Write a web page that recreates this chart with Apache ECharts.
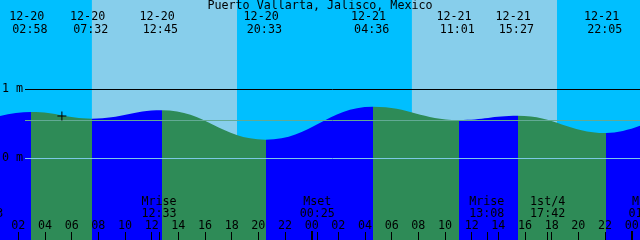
<!DOCTYPE html>
<html>
<head>
<meta charset="utf-8">
<script src="https://cdn.jsdelivr.net/npm/echarts@6/dist/echarts.min.js"></script>
<style>
  html, body { margin: 0; padding: 0; }
  #chart { width: 640px; height: 240px; }
</style>
</head>
<body>
<div id="chart"></div>
<script>
// highs and lows (mm-dd hh:mm) and level in metres
// first and last one are just outside the window
const tideTimes = ['12-19 19:00', '12-20 02:58', '12-20 07:32', '12-20 12:45', '12-20 20:33', '12-21 04:36', '12-21 11:01', '12-21 15:27', '12-21 22:05', '12-22 04:00']
const tideLevels = [0.20, 0.668, 0.572, 0.693, 0.269, 0.745, 0.553, 0.615, 0.365, 0.80]

// sunrise / sunset
const daylight = [['12-20 07:31', '12-20 18:24'], ['12-21 07:31', '12-21 18:24']]

// moon events along the bottom
const eventNames = ['Mset', 'Mrise', 'Mset', 'Mrise', '1st/4', 'Mset']
const eventTimes = ['12-19 23:33', '12-20 12:33', '12-21 00:25', '12-21 13:08', '12-21 17:42', '12-22 01:05']

// hours since 12-20 00:00
const hourTicks = [2, 4, 6, 8, 10, 12, 14, 16, 18, 20, 22, 24, 26, 28, 30, 32, 34, 36, 38, 40, 42, 44, 46, 48]
const dayTicks = [24, 48]
const levelTicks = [0, 1]
const meanLevel = 0.548
const nowTime = '12-20 05:16'
const nowLevel = 0.61

const viewStart = 0.625
const viewEnd = 48.625
const yMin = -1.179
const yMax = 2.284

const NIGHT = '#00BFFF'
const DAY = '#87CEEB'
const FLOOD = '#0000FF'
const EBB = '#2E8B57'
const FONT = 'DejaVu Sans Mono'
const FSIZE = 11.7

function toHours(s) {
  const [md, hm] = s.split(' ')
  const day = +md.split('-')[1] - 20
  const [h, m] = hm.split(':')
  return day * 24 + (+h) + (+m) / 60
}
const pad = n => (n < 10 ? '0' : '') + n

const tideHours = tideTimes.map(toHours)
const eventHours = eventTimes.map(toHours)
const labelHours = tideHours.filter(h => h > viewStart && h < viewEnd)

// rising water blue, falling water green
const pieces = []
for (let i = 0; i < tideHours.length - 1; i++) {
  pieces.push({
    gte: tideHours[i],
    lt: tideHours[i + 1],
    color: tideLevels[i + 1] > tideLevels[i] ? FLOOD : EBB
  })
}

// the event strip runs past both edges so clipped labels still show
const hourPx = 640 / (viewEnd - viewStart)
const overhang = 40

const noLine = { show: false, onZero: false }

const chart = echarts.init(document.getElementById('chart'))
chart.setOption({
  backgroundColor: NIGHT,
  animation: false,
  textStyle: { fontFamily: FONT, fontSize: FSIZE, color: '#000' },
  title: {
    text: 'Puerto Vallarta, Jalisco, Mexico',
    left: 'center',
    top: 0,
    padding: 0,
    z: 10,
    textStyle: { fontFamily: FONT, fontSize: FSIZE, fontWeight: 'normal', color: '#000' }
  },
  grid: [
    { left: 0, right: 0, top: 0, bottom: 0, outerBoundsMode: 'none', containLabel: false },
    { left: 25, right: 0, top: 0, bottom: 0, outerBoundsMode: 'none', containLabel: false },
    { left: -overhang, right: -overhang, top: 0, bottom: 0, outerBoundsMode: 'none', containLabel: false },
    { left: 0, right: 0, top: 0, bottom: 0, outerBoundsMode: 'none', containLabel: false }
  ],
  visualMap: {
    type: 'piecewise',
    show: false,
    seriesIndex: 0,
    dimension: 0,
    pieces: pieces
  },
  xAxis: [
    {
      gridIndex: 0, type: 'value', position: 'bottom', min: viewStart, max: viewEnd, z: 10,
      axisLine: noLine, splitLine: { show: false },
      axisTick: { show: true, inside: true, length: 8, customValues: hourTicks, lineStyle: { color: '#000', width: 1 } },
      axisLabel: {
        inside: true, margin: 8, customValues: hourTicks, showMaxLabel: true, showMinLabel: true,
        color: '#000', fontFamily: FONT, fontSize: FSIZE,
        formatter: v => pad(Math.round(v) % 24)
      }
    },
    {
      gridIndex: 0, type: 'value', position: 'top', min: viewStart, max: viewEnd, z: 10,
      axisLine: noLine, splitLine: { show: false }, axisTick: { show: false },
      axisLabel: {
        inside: true, margin: 10.7, customValues: labelHours,
        color: '#000', fontFamily: FONT, fontSize: FSIZE,
        formatter: v => {
          const i = tideHours.indexOf(v)
          const [d, t] = tideTimes[i].split(' ')
          return '{d|' + d + '}\n{t|' + t + '}'
        },
        rich: {
          d: { fontFamily: FONT, fontSize: FSIZE, lineHeight: 12.6, padding: [0, 9, 0, 0] },
          t: { fontFamily: FONT, fontSize: FSIZE, lineHeight: 12.6, padding: [0, 2.6, 0, 0] }
        }
      }
    },
    { gridIndex: 1, type: 'value', min: 0, max: 1, show: false },
    {
      gridIndex: 2, type: 'value', position: 'bottom', z: 10,
      min: viewStart - overhang / hourPx, max: viewEnd + overhang / hourPx,
      axisLine: noLine, splitLine: { show: false },
      axisTick: { show: true, inside: true, length: 8, customValues: eventHours, lineStyle: { color: '#000', width: 1 } },
      axisLabel: {
        inside: true, margin: 20, customValues: eventHours, showMaxLabel: true, showMinLabel: true,
        color: '#000', fontFamily: FONT, fontSize: FSIZE, lineHeight: 12.3,
        formatter: v => {
          const i = eventHours.indexOf(v)
          return eventNames[i] + '\n' + eventTimes[i].split(' ')[1]
        }
      }
    },
    {
      gridIndex: 3, type: 'value', position: 'bottom', min: viewStart, max: viewEnd, z: 10,
      axisLine: noLine, splitLine: { show: false }, axisLabel: { show: false },
      axisTick: { show: true, inside: true, length: 9, customValues: dayTicks, lineStyle: { color: '#000', width: 2 } }
    }
  ],
  yAxis: [
    {
      gridIndex: 0, type: 'value', min: yMin, max: yMax, z: 10,
      axisLine: noLine, splitLine: { show: false }, axisTick: { show: false },
      axisLabel: {
        inside: true, margin: 2, customValues: levelTicks, align: 'left',
        color: '#000', fontFamily: FONT, fontSize: FSIZE,
        formatter: v => v + ' m'
      }
    },
    { gridIndex: 1, type: 'value', min: yMin, max: yMax, show: false },
    { gridIndex: 2, type: 'value', min: 0, max: 1, show: false },
    { gridIndex: 3, type: 'value', min: 0, max: 1, show: false }
  ],
  series: [
    {
      type: 'line',
      xAxisIndex: 0,
      yAxisIndex: 0,
      data: tideHours.map((h, i) => [h, tideLevels[i]]),
      smooth: 0.43,
      smoothMonotone: 'x',
      showSymbol: false,
      symbol: 'none',
      lineStyle: { width: 0 },
      areaStyle: { origin: 'start', opacity: 1 },
      silent: true,
      markArea: {
        silent: true,
        itemStyle: { color: DAY },
        data: daylight.map(d => [{ xAxis: toHours(d[0]) }, { xAxis: toHours(d[1]) }])
      }
    },
    {
      type: 'line',
      xAxisIndex: 2,
      yAxisIndex: 1,
      data: [[0, 0]],
      showSymbol: false,
      lineStyle: { opacity: 0 },
      silent: true,
      markLine: {
        silent: true,
        symbol: 'none',
        label: { show: false },
        lineStyle: { type: 'solid', width: 1 },
        data: [
          { yAxis: 1, lineStyle: { color: '#000' } },
          { yAxis: 0, lineStyle: { color: '#7CC8E6' } },
          { yAxis: meanLevel, lineStyle: { color: '#62AA94' } }
        ]
      }
    },
    {
      type: 'scatter',
      xAxisIndex: 0,
      yAxisIndex: 0,
      silent: true,
      z: 6,
      symbol: 'path://M4,0h1v9h-1zM0,4h9v1h-9z',
      symbolSize: 9,
      symbolKeepAspect: true,
      itemStyle: { color: '#000', opacity: 1 },
      data: [[toHours(nowTime), nowLevel]]
    }
  ]
})
</script>
</body>
</html>
